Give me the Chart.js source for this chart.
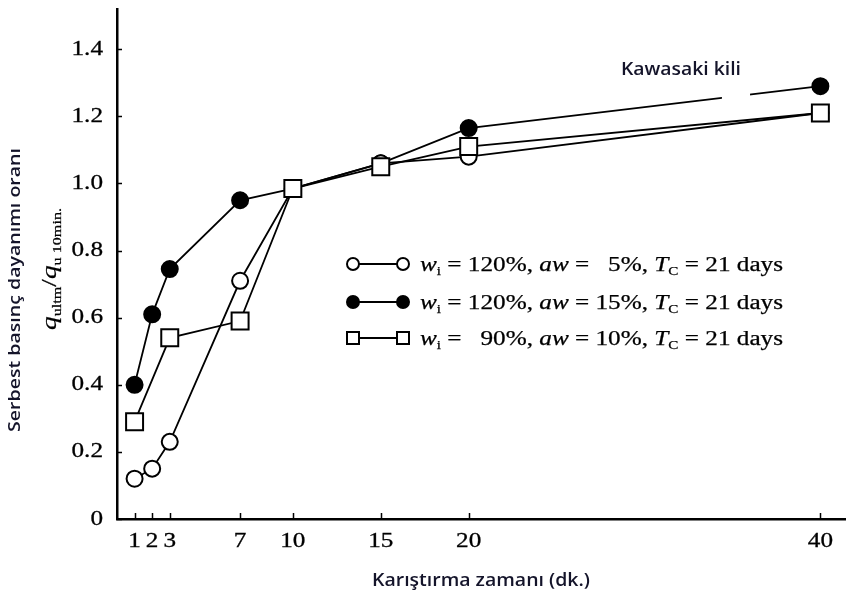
<!DOCTYPE html>
<html lang="tr">
<head>
<meta charset="UTF-8">
<title>Karıştırma zamanı - dayanım oranı</title>
<script src="https://cdn.jsdelivr.net/npm/chart.js"></script>
<style>
    html, body { margin: 0; padding: 0; background: #ffffff; }
    .wrap { width: 868px; height: 597px; }
</style>
</head>
<body>
<div class="wrap"><canvas id="chart" width="868" height="597"></canvas></div>
<script>
// x ticks (mixing time, min) and y ticks
const xTicks = [1, 2, 3, 7, 10, 15, 20, 40];
const yTicks = [0, 0.2, 0.4, 0.6, 0.8, 1.0, 1.2, 1.4];

// wi = 120%, aw = 5%  (open circles)
const timeOpen = [1, 2, 3, 7, 10, 15, 20, 40];
const ratioOpen = [0.12, 0.15, 0.23, 0.71, 0.985, 1.06, 1.08, 1.21];

// wi = 120%, aw = 15% (filled circles)
const timeFilled = [1, 2, 3, 7, 10, 15, 20, 40];
const ratioFilled = [0.40, 0.61, 0.745, 0.95, 0.985, 1.06, 1.165, 1.29];

// wi = 90%, aw = 10% (squares)
const timeSquare = [1, 3, 7, 10, 15, 20, 40];
const ratioSquare = [0.29, 0.54, 0.59, 0.985, 1.05, 1.11, 1.21];

// legend lines: [text, kind] with n = normal, i = italic, s = subscript
const legendRows = [
    [['w', 'i'], ['i', 's'], [' = 120%, ', 'n'], ['aw', 'i'], [' =   5%, ', 'n'], ['T', 'i'], ['C', 's'], [' = 21 days', 'n']],
    [['w', 'i'], ['i', 's'], [' = 120%, ', 'n'], ['aw', 'i'], [' = 15%, ', 'n'], ['T', 'i'], ['C', 's'], [' = 21 days', 'n']],
    [['w', 'i'], ['i', 's'], [' =   90%, ', 'n'], ['aw', 'i'], [' = 10%, ', 'n'], ['T', 'i'], ['C', 's'], [' = 21 days', 'n']]
];
const yLabelParts = [['q', 'i'], ['ultm', 's'], ['/', 'n'], ['q', 'i'], ['u 10min.', 's']];

const SERIF = '"Liberation Serif", "Times New Roman", serif';
const SANS = '"Open Sans", "Noto Sans", sans-serif';

function pts(xs, ys) {
    return xs.map((x, i) => ({ x: x, y: ys[i] }));
}

function partFont(kind, size) {
    if (kind === 's') return Math.round(size * 0.58) + 'px ' + SERIF;
    if (kind === 'i') return 'italic ' + size + 'px ' + SERIF;
    return size + 'px ' + SERIF;
}

function richWidth(ctx, parts, size) {
    let w = 0;
    parts.forEach(p => { ctx.font = partFont(p[1], size); w += ctx.measureText(p[0]).width; });
    return w;
}

// rich text starting at local (0,0) baseline, already translated/scaled
function richText(ctx, parts, size) {
    let x = 0;
    ctx.textBaseline = 'alphabetic';
    ctx.textAlign = 'left';
    ctx.lineWidth = 0.25;
    parts.forEach(p => {
        ctx.font = partFont(p[1], size);
        const dy = p[1] === 's' ? size * 0.22 : 0;
        ctx.fillText(p[0], x, dy);
        ctx.strokeText(p[0], x, dy);
        x += ctx.measureText(p[0]).width;
    });
}

// plain text squeezed/stretched to a target width
function fitText(ctx, str, cx, cy, font, width, rot) {
    ctx.save();
    ctx.font = font;
    const sx = width / ctx.measureText(str).width;
    ctx.translate(cx, cy);
    if (rot) ctx.rotate(rot);
    ctx.scale(sx, 1);
    ctx.textAlign = 'center';
    ctx.textBaseline = 'middle';
    ctx.fillText(str, 0, 0);
    ctx.restore();
}

function serifLabel(ctx, str, x, y, align) {
    ctx.save();
    ctx.font = '21px ' + SERIF;
    ctx.translate(x, y);
    ctx.scale(1.2, 1);
    ctx.textAlign = align;
    ctx.textBaseline = 'middle';
    ctx.lineWidth = 0.3;
    ctx.fillText(str, 0, 0);
    ctx.strokeText(str, 0, 0);
    ctx.restore();
}

const extras = {
    id: 'extras',
    afterDatasetsDraw(chart) {
        const ctx = chart.ctx;
        const xs = chart.scales.x, ys = chart.scales.y;
        // white patch under the label, it cuts the upper line like the original
        ctx.save();
        ctx.fillStyle = '#ffffff';
        const x1 = xs.getPixelForValue(34.4), x2 = xs.getPixelForValue(36.0);
        const y1 = ys.getPixelForValue(1.29), y2 = ys.getPixelForValue(1.245);
        ctx.fillRect(x1, y1, x2 - x1, y2 - y1);
        ctx.restore();
    },
    afterDraw(chart) {
        const ctx = chart.ctx;
        const xs = chart.scales.x, ys = chart.scales.y;
        const area = chart.chartArea;
        ctx.save();
        ctx.strokeStyle = '#000';
        ctx.fillStyle = '#000';

        // inward tick marks
        ctx.lineWidth = 1.5;
        ctx.beginPath();
        yTicks.forEach(v => {
            const py = Math.round(ys.getPixelForValue(v)) + 0.5;
            ctx.moveTo(area.left, py);
            ctx.lineTo(area.left + 5, py);
        });
        xTicks.forEach(v => {
            const px = Math.round(xs.getPixelForValue(v)) + 0.5;
            ctx.moveTo(px, area.bottom);
            ctx.lineTo(px, area.bottom - 6);
        });
        ctx.stroke();

        // tick labels
        yTicks.forEach(v => {
            serifLabel(ctx, v === 0 ? '0' : v.toFixed(1), area.left - 14, ys.getPixelForValue(v), 'right');
        });
        xTicks.forEach(v => {
            serifLabel(ctx, String(v), xs.getPixelForValue(v), area.bottom + 22, 'center');
        });

        // legend inside the plot
        const rowY = [264, 302, 338];
        const mx1 = 353, mx2 = 403, tx = 420, tw = 363;
        rowY.forEach((yy, i) => {
            ctx.lineWidth = 2;
            ctx.strokeStyle = '#000';
            ctx.beginPath();
            ctx.moveTo(mx1, yy);
            ctx.lineTo(mx2, yy);
            ctx.stroke();
            [mx1, mx2].forEach(mx => {
                ctx.beginPath();
                if (i === 2) {
                    ctx.rect(mx - 6, yy - 6, 12, 12);
                } else {
                    ctx.arc(mx, yy, 6, 0, Math.PI * 2);
                }
                ctx.fillStyle = i === 1 ? '#000' : '#fff';
                ctx.fill();
                ctx.stroke();
            });
            ctx.fillStyle = '#000';
            ctx.save();
            ctx.translate(tx, yy + 7);
            ctx.scale(tw / richWidth(ctx, legendRows[i], 20), 1);
            richText(ctx, legendRows[i], 20);
            ctx.restore();
        });

        // sans texts
        ctx.fillStyle = '#14142a';
        fitText(ctx, 'Kawasaki kili', 681, 70, '600 18px ' + SANS, 120);
        fitText(ctx, 'Karıştırma zamanı (dk.)', 481, 581, '600 18px ' + SANS, 218);
        fitText(ctx, 'Serbest basınç dayanımı oranı', 15, 290, '600 17px ' + SANS, 284, -Math.PI / 2);

        // q ratio label, rotated
        ctx.fillStyle = '#000';
        ctx.strokeStyle = '#000';
        ctx.save();
        ctx.translate(56, 330);
        ctx.rotate(-Math.PI / 2);
        ctx.scale(122 / richWidth(ctx, yLabelParts, 22), 1);
        richText(ctx, yLabelParts, 22);
        ctx.restore();

        ctx.restore();
    }
};

const ctx = document.getElementById('chart').getContext('2d');
const chart = new Chart(ctx, {
    type: 'line',
    data: {
        datasets: [
            {
                label: 'wi = 90%, aw = 10%',
                data: pts(timeSquare, ratioSquare),
                borderColor: '#000',
                borderWidth: 1.8,
                pointStyle: 'rect',
                pointRadius: 12,
                pointBorderWidth: 2,
                pointBackgroundColor: '#fff',
                pointBorderColor: '#000',
                fill: false,
                tension: 0
            },
            {
                label: 'wi = 120%, aw = 5%',
                data: pts(timeOpen, ratioOpen),
                borderColor: '#000',
                borderWidth: 1.8,
                pointStyle: 'circle',
                pointRadius: 8,
                pointBorderWidth: 2,
                pointBackgroundColor: '#fff',
                pointBorderColor: '#000',
                fill: false,
                tension: 0
            },
            {
                label: 'wi = 120%, aw = 15%',
                data: pts(timeFilled, ratioFilled),
                borderColor: '#000',
                borderWidth: 1.8,
                pointStyle: 'circle',
                pointRadius: 8,
                pointBorderWidth: 2,
                pointBackgroundColor: '#000',
                pointBorderColor: '#000',
                fill: false,
                tension: 0
            }
        ]
    },
    options: {
        responsive: false,
        animation: false,
        layout: { autoPadding: false, padding: { top: 9, right: 23, left: 0, bottom: 0 } },
        plugins: {
            legend: { display: false },
            tooltip: { enabled: false }
        },
        scales: {
            x: {
                type: 'linear',
                min: 0,
                max: 41.4,
                afterBuildTicks: s => { s.ticks = xTicks.map(v => ({ value: v })); },
                afterFit: s => { s.height = 78; },
                grid: { display: false, drawTicks: false },
                border: { display: true, color: '#000', width: 2.5 },
                ticks: { display: false }
            },
            y: {
                type: 'linear',
                min: 0,
                max: 1.52,
                afterBuildTicks: s => { s.ticks = yTicks.map(v => ({ value: v })); },
                afterFit: s => { s.width = 117; },
                grid: { display: false, drawTicks: false },
                border: { display: true, color: '#000', width: 2.5 },
                ticks: { display: false }
            }
        }
    },
    plugins: [extras]
});
</script>
</body>
</html>
